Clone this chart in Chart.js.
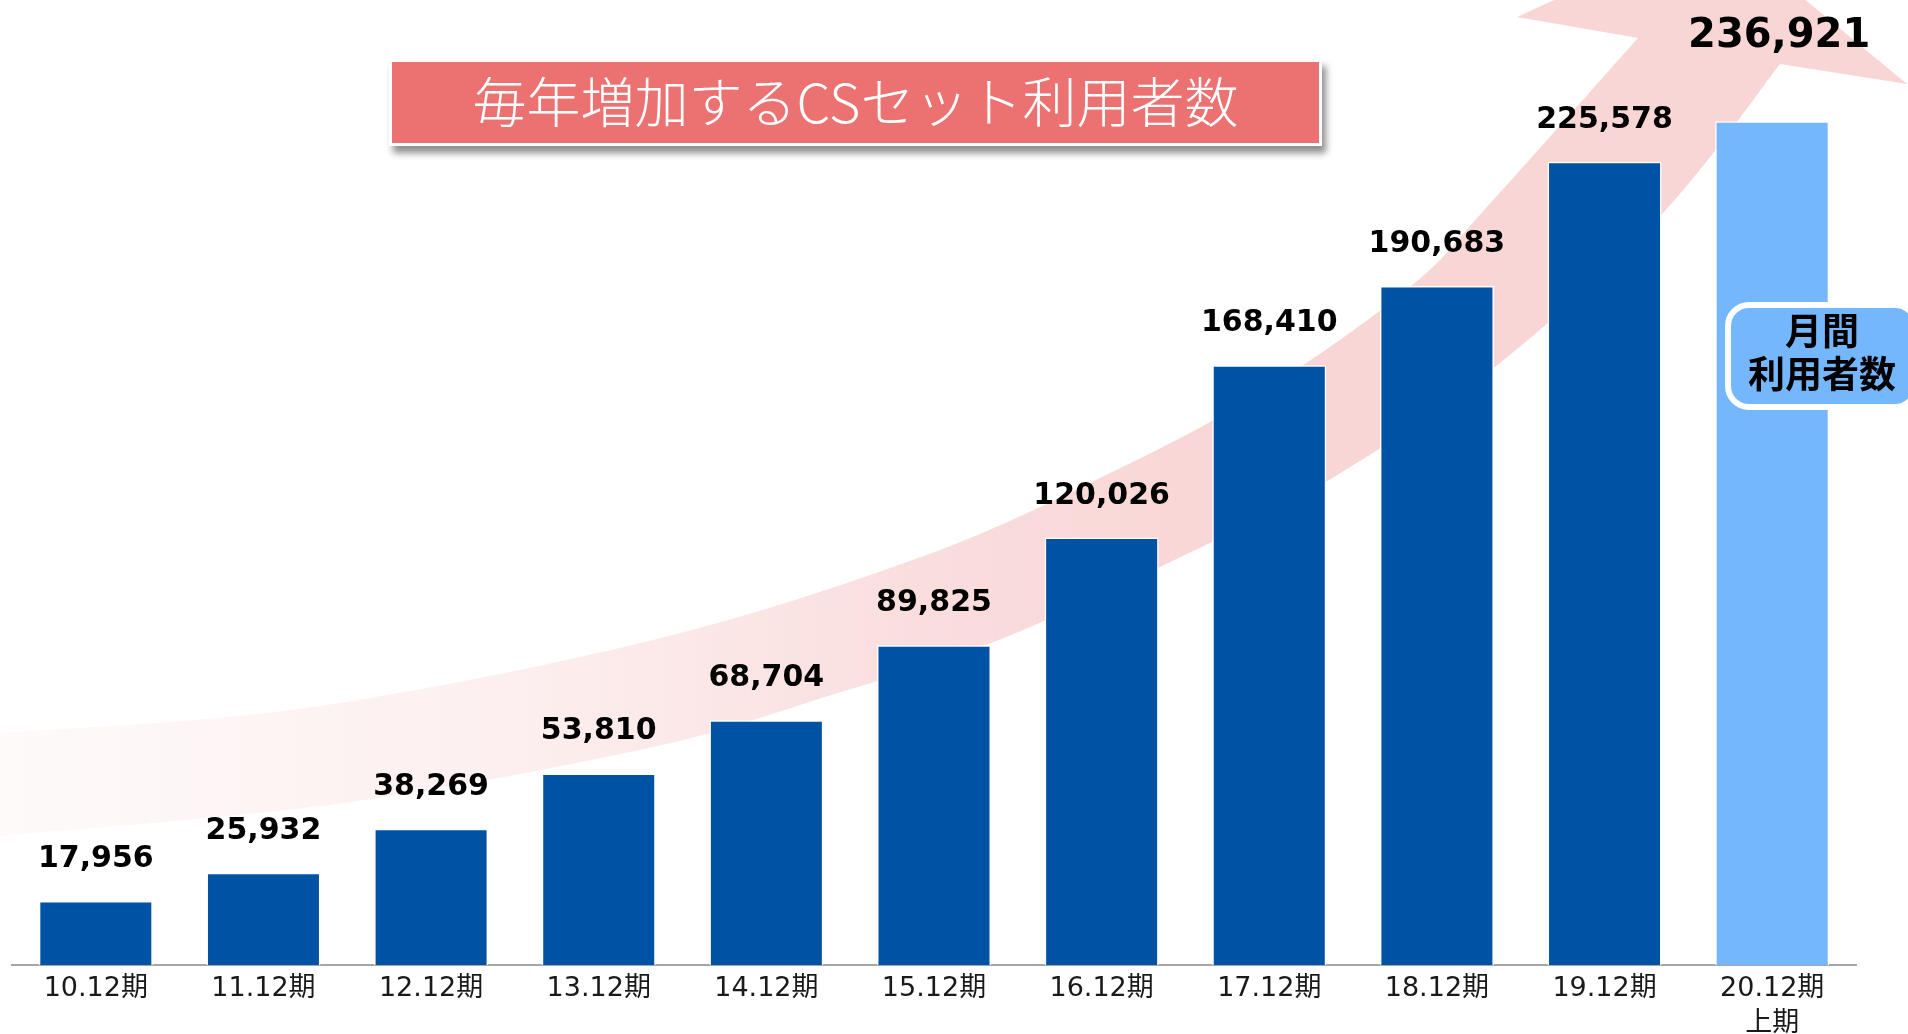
<!DOCTYPE html>
<html>
<head>
<meta charset="utf-8">
<script src="https://cdn.jsdelivr.net/npm/chart.js@4.4.1/dist/chart.umd.min.js"></script>
<style>
  html, body { margin: 0; padding: 0; background: #ffffff; overflow: hidden; }
  #wrap { position: relative; width: 1908px; height: 1034px; }
  #chart { position: absolute; left: 0; top: 0; }
  #title {
    position: absolute; left: 389px; top: 59px; width: 927px; height: 81px;
    border: 3px solid #ffffff; background: #EC7171;
    box-shadow: 4px 7px 7px rgba(0,0,0,0.45);
    color: #ffffff; font-family: 'Noto Sans CJK JP', sans-serif; font-weight: 300;
    font-size: 54px; line-height: 76px; text-align: center; white-space: nowrap;
  }
  #side {
    position: absolute; left: 1725px; top: 302px; width: 182px; height: 96px;
    border: 6px solid #ffffff; border-radius: 24px; background: #75B7FC;
    color: #000000; font-family: 'Noto Sans CJK JP', sans-serif; font-weight: 700;
    font-size: 37px; line-height: 43px; text-align: center; padding-top: 0px; box-sizing: content-box;
  }
</style>
</head>
<body>
<div id="wrap">
  <canvas id="chart" width="1908" height="1034"></canvas>
  <div id="title">毎年増加するCSセット利用者数</div>
  <div id="side">月間<br>利用者数</div>
</div>
<script>
// ---- data ----
const categories = ['10.12期', '11.12期', '12.12期', '13.12期', '14.12期', '15.12期', '16.12期', '17.12期', '18.12期', '19.12期', '20.12期\n上期'];
const values = [17956, 25932, 38269, 53810, 68704, 89825, 120026, 168410, 190683, 225578, 236921];
const barColors = ['#0052A4', '#0052A4', '#0052A4', '#0052A4', '#0052A4', '#0052A4', '#0052A4', '#0052A4', '#0052A4', '#0052A4', '#75B7FC'];

// ---- decorative background arrow (not data) ----
const arrowUpper = [[-10,734],[0,733],[306,708],[653,640],[921,557],[1100,478],[1260,393],[1410,287],[1487,207],[1638,38]];
const arrowHead = [[1517,17],[1716,-74],[1907,84],[1780,64]];
const arrowLower = [[1780,64],[1663,213],[1500,363],[1329,480],[1160,567],[991,643],[825,697],[653,747],[344,803],[0,836],[-10,837]];

function splineThrough(ctx, pts, moveFirst) {
  if (moveFirst) ctx.moveTo(pts[0][0], pts[0][1]); else ctx.lineTo(pts[0][0], pts[0][1]);
  for (let i = 0; i < pts.length - 1; i++) {
    const p0 = pts[Math.max(0, i - 1)], p1 = pts[i], p2 = pts[i + 1], p3 = pts[Math.min(pts.length - 1, i + 2)];
    const c1x = p1[0] + (p2[0] - p0[0]) / 6, c1y = p1[1] + (p2[1] - p0[1]) / 6;
    const c2x = p2[0] - (p3[0] - p1[0]) / 6, c2y = p2[1] - (p3[1] - p1[1]) / 6;
    ctx.bezierCurveTo(c1x, c1y, c2x, c2y, p2[0], p2[1]);
  }
}

const arrowPlugin = {
  id: 'arrowBg',
  beforeDatasetsDraw(chart) {
    const ctx = chart.ctx;
    ctx.save();
    const g = ctx.createLinearGradient(0, 0, 1750, 0);
    g.addColorStop(0, 'rgba(249,214,214,0.12)');
    g.addColorStop(0.3, 'rgba(249,214,214,0.4)');
    g.addColorStop(0.55, 'rgba(249,214,214,0.85)');
    g.addColorStop(0.7, 'rgba(249,214,214,1)');
    g.addColorStop(1, 'rgba(249,214,214,1)');
    ctx.fillStyle = g;
    ctx.beginPath();
    splineThrough(ctx, arrowUpper, true);
    arrowHead.forEach(p => ctx.lineTo(p[0], p[1]));
    splineThrough(ctx, arrowLower, false);
    ctx.closePath();
    ctx.fill();
    ctx.restore();
  }
};

const labelPlugin = {
  id: 'valueLabels',
  afterDatasetsDraw(chart) {
    const ctx = chart.ctx;
    const meta = chart.getDatasetMeta(0);
    ctx.save();
    ctx.fillStyle = '#000000';
    ctx.textAlign = 'center';
    ctx.textBaseline = 'alphabetic';
    meta.data.forEach((bar, i) => {
      const last = i === values.length - 1;
      const size = last ? 40 : 30;
      ctx.font = 'bold ' + size + 'px "DejaVu Sans", "Noto Sans CJK JP", sans-serif';
      const txt = values[i].toLocaleString('en-US');
      ctx.fillText(txt, bar.x + (last ? 7 : 0), bar.y - (last ? 74 : 34));
    });
    ctx.restore();
  }
};

new Chart(document.getElementById('chart'), {
  type: 'bar',
  data: {
    labels: categories.map(c => c.split('\n')),
    datasets: [{
      data: values,
      backgroundColor: barColors,
      borderColor: '#ffffff',
      borderWidth: 1.5,
      categoryPercentage: 1.0,
      barPercentage: 0.68
    }]
  },
  options: {
    responsive: false,
    maintainAspectRatio: false,
    devicePixelRatio: 1,
    animation: false,
    layout: { padding: { left: 12, right: 52, top: 0, bottom: 0 } },
    plugins: { legend: { display: false }, tooltip: { enabled: false }, title: { display: false } },
    scales: {
      x: {
        grid: { display: false, drawTicks: false },
        border: { display: true, color: '#A6A6A6', width: 2 },
        ticks: {
          color: '#1a1a1a', autoSkip: false, maxRotation: 0, padding: 7,
          font: { family: '"DejaVu Sans", "Noto Sans CJK JP", sans-serif', size: 27, lineHeight: 1.28 }
        },
        afterFit(scale) { scale.height = 69; }
      },
      y: { display: false, min: 0, max: 271000 }
    }
  },
  plugins: [arrowPlugin, labelPlugin]
});
</script>
</body>
</html>
